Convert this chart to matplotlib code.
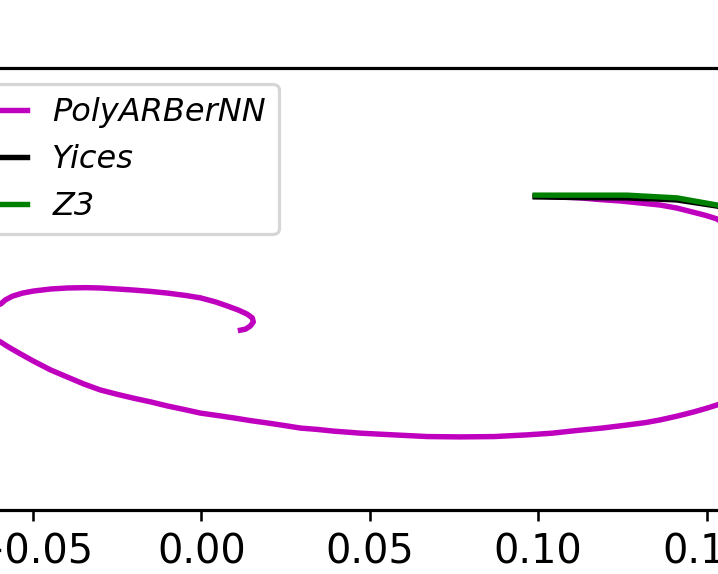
import matplotlib.pyplot as plt
import numpy as np

# trajectory (x, y in data units)
poly_x = [0.0991, 0.1056, 0.1125, 0.1184, 0.1243, 0.1303, 0.1362, 0.1412, 0.1460, 0.1499, 0.1531,
          0.1570, 0.1629, 0.1674, 0.1703, 0.1703, 0.1674, 0.1623, 0.1570,
          0.1531, 0.1499, 0.1460, 0.1412, 0.1362, 0.1318, 0.1264, 0.1190, 0.1116, 0.1042, 0.0967,
          0.0869, 0.0769, 0.0671, 0.0570, 0.0472, 0.0433, 0.0392, 0.0344, 0.0294, 0.0243, 0.0196,
          0.0145, 0.0095, 0.0047, -0.0003, -0.0053, -0.0101, -0.0151, -0.0202, -0.0249, -0.0300,
          -0.0350, -0.0398, -0.0448, -0.0499, -0.0537, -0.0567, -0.0582, -0.0596,
          -0.0632, -0.0656, -0.0662, -0.0641,
          -0.0596, -0.0582, -0.0561, -0.0531, -0.0499, -0.0448, -0.0398, -0.0344, -0.0300, -0.0249,
          -0.0202, -0.0151, -0.0101, -0.0047, -0.0003, 0.0042, 0.0077, 0.0110, 0.0136, 0.0151,
          0.0154, 0.0145, 0.0131, 0.0116]
poly_y = [0.0124, 0.0121, 0.0118, 0.0113, 0.0109, 0.0103, 0.0097, 0.0088, 0.0076, 0.0066, 0.0056,
          0.0029, -0.0021, -0.0094, -0.0182, -0.0300, -0.0388, -0.0453, -0.0479,
          -0.0491, -0.0501, -0.0512, -0.0524, -0.0535, -0.0543, -0.0550, -0.0559, -0.0566, -0.0574, -0.0579,
          -0.0584, -0.0585, -0.0584, -0.0579, -0.0574, -0.0571, -0.0568, -0.0563, -0.0559, -0.0551, -0.0544,
          -0.0537, -0.0529, -0.0522, -0.0515, -0.0504, -0.0494, -0.0482, -0.0471, -0.0460, -0.0447,
          -0.0429, -0.0409, -0.0388, -0.0362, -0.0341, -0.0324, -0.0315, -0.0306,
          -0.0288, -0.0259, -0.0229, -0.0206,
          -0.0194, -0.0182, -0.0171, -0.0162, -0.0156, -0.0150, -0.0147, -0.0146, -0.0147, -0.0150,
          -0.0153, -0.0157, -0.0162, -0.0169, -0.0176, -0.0188, -0.0200, -0.0212, -0.0224, -0.0235,
          -0.0247, -0.0259, -0.0268, -0.0271]

yices_x = [0.0991, 0.1125, 0.1264, 0.1412, 0.1531, 0.1600]
yices_y = [0.0121, 0.0119, 0.0118, 0.0112, 0.0094, 0.0074]

z3_x = [0.0991, 0.1125, 0.1264, 0.1412, 0.1531, 0.1600]
z3_y = [0.0126, 0.0126, 0.0126, 0.0118, 0.0097, 0.0076]

fig = plt.figure(figsize=(718 / 230, 574 / 230), dpi=230)
# the axes run past the figure edges on the left and right
ax = fig.add_axes([-0.0919, 0.1115, 1.3106, 0.770])

ax.plot(poly_x, poly_y, c='m', lw=1.7, label='PolyARBerNN')
ax.plot(yices_x, yices_y, c='k', lw=1.7, label='Yices')
ax.plot(z3_x, z3_y, c='g', lw=1.7, label='Z3')

ax.set_xlim(-0.0794, 0.20)
ax.set_ylim(-0.08, 0.05)
ax.set_xticks([-0.05, 0.00, 0.05, 0.10, 0.15, 0.20])
ax.set_xticklabels(['−0.05', '0.00', '0.05', '0.10', '0.15', '0.20'])
ax.tick_params(axis='x', labelsize=12.5)
ax.spines['top'].set_linewidth(1.0)
ax.spines['bottom'].set_linewidth(1.0)

ax.legend(loc='upper left', prop={'style': 'italic', 'size': 10})

fig.savefig('out.png', dpi=230)
